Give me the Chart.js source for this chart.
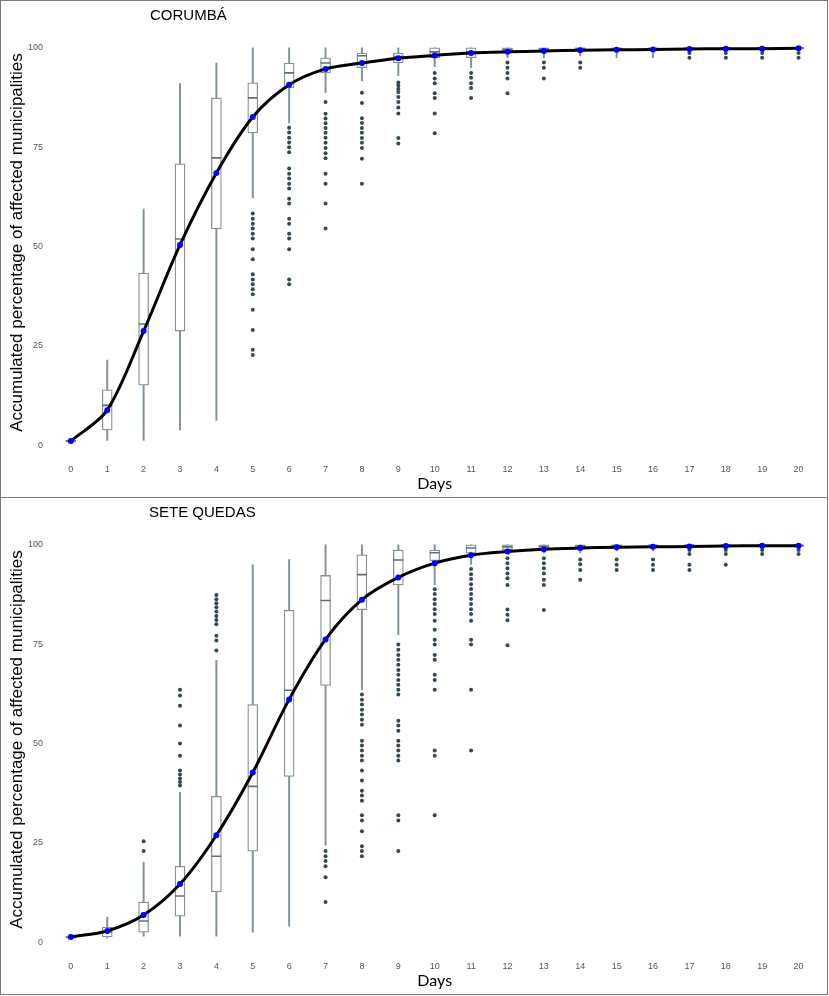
<!DOCTYPE html>
<html>
<head>
<meta charset="utf-8">
<script src="https://cdn.jsdelivr.net/npm/chart.js@4.4.1/dist/chart.umd.min.js"></script>
<style>
  html, body { margin: 0; padding: 0; background: #fff; overflow: hidden; }
  .panel { position: absolute; left: 0; width: 828px; height: 498px; box-sizing: border-box;
           border: 1px solid #7a7a7a; }
  .box { position: absolute; left: 0; top: 0; width: 826px; height: 496px; }
  .title { position: absolute; font: 15px "Liberation Sans", Arial, sans-serif; color: #000;
           line-height: 15px; white-space: nowrap; }
</style>
</head>
<body>
<div class="panel" style="top:0">
  <div class="box"><canvas id="corumba"></canvas></div>
  <div class="title" style="left:149px; top:6px">CORUMBÁ</div>
</div>
<div class="panel" style="top:497px">
  <div class="box"><canvas id="sete"></canvas></div>
  <div class="title" style="left:148px; top:6px">SETE QUEDAS</div>
</div>
<script>
// days on the x axis
var days = [0,1,2,3,4,5,6,7,8,9,10,11,12,13,14,15,16,17,18,19,20];
var yTicks = [0, 25, 50, 75, 100];

// ---- CORUMBA ----
var cMean  = [1, 8.8, 28.7, 50.4, 68.5, 82.6, 90.7, 94.7, 96.2, 97.4, 98.1, 98.7, 99.0, 99.2, 99.4, 99.5, 99.6, 99.7, 99.8, 99.8, 99.9];
var cLow   = [0.8, 1.2, 1.2, 3.8, 6.2, 62.2, 81.1, 88.7, 91.7, 93, 95.2, 95, 97.5, 97.5, 98, 97.5, 97.5, 99, 99.2, 99.2, 99.2];
var cQ1    = [0.9, 3.8, 15.1, 28.7, 54.4, 78.6, 89.9, 93.7, 95, 96.2, 97.5, 97.5, 99, 99.2, 99.3, 99.3, 99.4, 99.6, 99.7, 99.7, 99.7];
var cMed   = [1, 10, 30.5, 51.9, 72.3, 87.4, 93.7, 96.2, 98, 97.8, 99, 99, 99.6, 99.7, 99.8, 99.8, 99.8, 99.9, 100, 100, 100];
var cQ3    = [1.2, 13.9, 43.3, 70.8, 87.4, 91.2, 96.2, 97.5, 98.7, 98.7, 100, 100, 100, 100, 100, 100, 100, 100, 100, 100, 100];
var cHigh  = [1.3, 21.4, 59.4, 91, 96.2, 100, 100, 100, 100, 100, 100, 100, 100, 100, 100, 100, 100, 100, 100, 100, 100];
var cOut = [
  [], [], [], [], [],
  [58.3, 57, 55.7, 54.5, 53.2, 52, 49.3, 46.8, 43, 41.7, 40.5, 39.2, 38, 34.1, 29, 24, 22.7],
  [79.9, 78.7, 77.4, 76.2, 75, 73.7, 69.6, 68.3, 67.1, 65.8, 64.6, 62, 60.8, 57, 55.7, 53.2, 52, 49.3, 41.7, 40.5],
  [86.4, 83.4, 82.2, 81, 79.8, 78.6, 77.4, 76.1, 74.8, 73.5, 72.2, 68.3, 65.8, 60.8, 54.5],
  [88.7, 86.1, 82.3, 81.1, 79.8, 78.6, 77.3, 76.1, 74.8, 72.1, 65.8],
  [91.3, 90.5, 89.7, 88.9, 87.6, 86.4, 85, 83.5, 77.3, 75.9],
  [93.7, 92.3, 91.1, 88.6, 87.4, 83.5, 78.5],
  [93.7, 92.5, 91.1, 89.9, 87.4],
  [96.3, 95, 93.7, 92.3, 88.6],
  [96.3, 95, 92.3],
  [96.3, 95],
  [], [],
  [98.7, 97.5], [98.7, 97.5], [98.7, 97.5], [98.7, 97.5]
];

// ---- SETE QUEDAS ----
var sMean  = [1.3, 2.8, 6.8, 14.6, 26.9, 42.7, 61.1, 76.2, 86.2, 91.8, 95.4, 97.4, 98.3, 98.9, 99.2, 99.4, 99.5, 99.6, 99.7, 99.8, 99.8];
var sLow   = [0.9, 1, 1.5, 1.5, 1.5, 2.5, 4, 24.4, 63.5, 77.4, 90, 95.1, 97.8, 98, 98, 98.5, 98.5, 99, 99, 99, 99];
var sQ1    = [1, 1.3, 2.5, 6.5, 12.6, 22.9, 41.7, 64.6, 83.7, 89.9, 96, 97.9, 98.8, 99, 99.2, 99.3, 99.3, 99.5, 99.5, 99.5, 99.5];
var sMed   = [1.2, 2.5, 5.3, 11.6, 21.6, 39.2, 63.4, 86, 92.5, 96.2, 98, 99.2, 99.5, 99.6, 99.7, 99.8, 99.8, 99.9, 99.9, 99.9, 99.9];
var sQ3    = [1.4, 3.8, 10.1, 19.1, 36.7, 59.8, 83.5, 92.3, 97.5, 98.7, 98.7, 100, 100, 100, 100, 100, 100, 100, 100, 100, 100];
var sHigh  = [1.5, 6.3, 20.1, 37.7, 70.9, 95, 96.3, 100, 100, 100, 100, 100, 100, 100, 100, 100, 100, 100, 100, 100, 100];
var sOut = [
  [], [],
  [25.4, 22.9],
  [63.5, 62.1, 59.5, 54.5, 50, 46.9, 43.2, 42.2, 41.2, 40.3, 39.4],
  [87.4, 86.3, 85.3, 84.3, 83.2, 82.1, 81.1, 80, 77.1, 75.9, 73.4],
  [], [],
  [22.9, 21.6, 20.4, 19.1, 16.3, 10.1],
  [62.3, 61, 59.8, 58.5, 57.3, 56, 54.7, 50.7, 49.5, 48.2, 46.9, 45.7, 43.2, 40.7, 38.1, 36.9, 35.6, 31.9, 30.6, 27.9, 24.1, 22.9, 21.6],
  [74.9, 73.6, 72.3, 71.1, 69.8, 68.5, 67.3, 66, 64.8, 63.5, 62.3, 55.7, 54.5, 53.2, 50.7, 49.5, 48.2, 46.9, 45.7, 31.9, 30.6, 22.9],
  [88.8, 87.6, 86.3, 85.1, 83.8, 82.6, 80.9, 78.6, 76.1, 74.9, 72.3, 71.1, 67.3, 66, 63.5, 48.2, 46.9, 31.9],
  [93.9, 92.6, 91.4, 90.1, 88.9, 87.6, 86.4, 85.1, 83.8, 82.6, 80.9, 76.1, 74.9, 63.5, 48.2],
  [96.6, 95.4, 94.1, 92.8, 91.6, 89.9, 83.7, 82.4, 81, 74.7],
  [96.6, 95.4, 94.1, 92.8, 91.2, 89.9, 83.6],
  [96.3, 95.1, 93.7, 91.2],
  [96.3, 95, 93.7],
  [96.3, 95, 93.7],
  [98.7, 97.7, 95, 93.7],
  [98.7, 97.7, 95],
  [98.7, 97.7],
  [98.7, 97.7]
];

var boxColor = '#7f939c';
var dotColor = '#2f4b55';

function boxChart(id, mean, low, q1, med, q3, high, out) {
  var whisk = days.map(function (d, i) { return {x: d, y: [low[i], high[i]]}; });
  var boxes = days.map(function (d, i) { return {x: d, y: [q1[i], q3[i]]}; });
  var meds = days.map(function (d, i) { return {x: d, y: med[i]}; });
  var means = days.map(function (d, i) { return {x: d, y: mean[i]}; });
  var dots = [];
  out.forEach(function (vals, i) {
    vals.forEach(function (v) { dots.push({x: days[i], y: v}); });
  });

  return new Chart(document.getElementById(id), {
    type: 'bar',
    data: {
      datasets: [
        { type: 'bar', data: whisk, grouped: false, barThickness: 1.3,
          backgroundColor: boxColor, borderWidth: 0, order: 5 },
        { type: 'bar', data: boxes, grouped: false, barThickness: 10,
          backgroundColor: '#ffffff', borderColor: boxColor, borderWidth: 1.3,
          borderSkipped: false, order: 4 },
        { type: 'scatter', data: meds, pointStyle: 'line', pointRadius: 5,
          borderColor: '#5d717a', borderWidth: 1.6, order: 3 },
        { type: 'scatter', data: dots, pointRadius: 2, pointBackgroundColor: dotColor,
          pointBorderWidth: 0, order: 2 },
        { type: 'line', data: means, borderColor: '#000', borderWidth: 3,
          tension: 0.3, pointRadius: 3,
          pointBackgroundColor: '#0000ff', pointBorderWidth: 0, order: 1 }
      ]
    },
    options: {
      responsive: true,
      maintainAspectRatio: false,
      animation: false,
      layout: { padding: { top: 27, right: 6, left: 0, bottom: 0 } },
      plugins: { legend: { display: false }, tooltip: { enabled: false } },
      scales: {
        x: {
          type: 'linear', min: -0.6, max: 20.6, offset: false,
          afterBuildTicks: function (axis) { axis.ticks = days.map(function (d) { return {value: d}; }); },
          afterFit: function (axis) { axis.height = 40; },
          grid: { display: false, drawTicks: false, offset: false },
          border: { display: false },
          ticks: { color: '#555', padding: 7, font: { family: 'Liberation Sans', size: 9 } },
          title: { display: true, text: 'Days', color: '#000', padding: { top: 0, bottom: 4 },
                   font: { family: 'Lato', size: 16 } }
        },
        y: {
          min: -3, max: 105,
          afterBuildTicks: function (axis) { axis.ticks = yTicks.map(function (v) { return {value: v}; }); },
          afterFit: function (axis) { axis.width = 48; },
          grid: { display: false, drawTicks: false },
          border: { display: false },
          ticks: { color: '#555', padding: 6, font: { family: 'Liberation Sans', size: 9 } },
          title: { display: true, text: 'Accumulated percentage of affected municipalities',
                   color: '#000', padding: { top: 6, bottom: 0 },
                   font: { family: 'Liberation Sans', size: 17 } }
        }
      }
    }
  });
}

boxChart('corumba', cMean, cLow, cQ1, cMed, cQ3, cHigh, cOut);
boxChart('sete', sMean, sLow, sQ1, sMed, sQ3, sHigh, sOut);
</script>
</body>
</html>
